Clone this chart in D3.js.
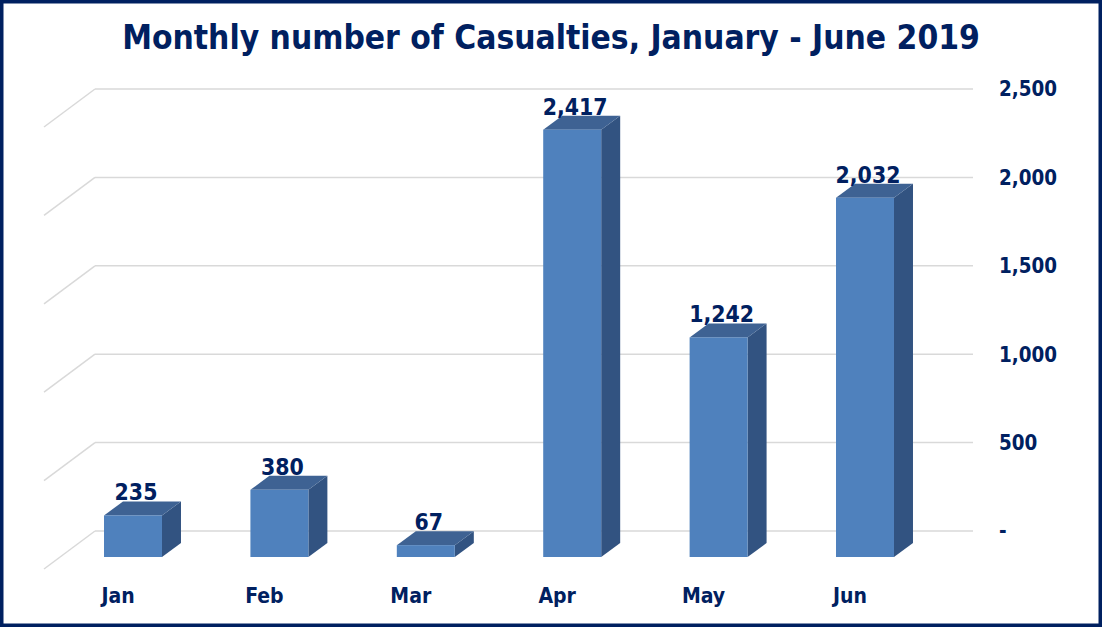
<!DOCTYPE html>
<html><head><meta charset="utf-8">
<script src="https://cdn.jsdelivr.net/npm/d3@7"></script>
<style>html,body{margin:0;padding:0;background:#fff;}svg{display:block;}</style>
</head><body>
<svg id="c" width="1102" height="627"></svg>
<script>
const months = ["Jan","Feb","Mar","Apr","May","Jun"];
const casualties = [235, 380, 67, 2417, 1242, 2032];
const yTicks = [0, 500, 1000, 1500, 2000, 2500];
const yTickLabels = ["-", "500", "1,000", "1,500", "2,000", "2,500"];
const title = "Monthly number of Casualties, January - June 2019";

const W = 1102, H = 627;
const navy = "#002060";
const font = "'DejaVu Sans Condensed', 'DejaVu Sans', sans-serif";
const svg = d3.select("#c");

// frame
svg.append("rect").attr("x",1.75).attr("y",1.75).attr("width",W-3.5).attr("height",H-3.5)
  .attr("fill","#fff").attr("stroke",navy).attr("stroke-width",3.5);

// scales: back wall and front plane
const yBack = d3.scaleLinear().domain([0,2500]).range([531,89]);
const frontDY = 26;          // front face offset below back wall
const depthDX = 19, depthDY = -14; // bar depth
const floorDX = -51, floorDY = 38;  // side wall diagonal
const x = d3.scaleBand().domain(months).range([59.8, 938.2]).paddingInner(0.604).paddingOuter(0.302);
const yFront = v => yBack(v) + frontDY;

// gridlines
const wallX0 = 95, wallX1 = 973;
const g = svg.append("g");
yTicks.forEach(t => {
  const yy = yBack(t);
  g.append("line").attr("x1",wallX0).attr("x2",wallX1).attr("y1",yy).attr("y2",yy)
    .attr("stroke","#d9d9d9").attr("stroke-width",1.5);
  g.append("line").attr("x1",wallX0).attr("x2",wallX0+floorDX).attr("y1",yy).attr("y2",yy+floorDY)
    .attr("stroke","#d9d9d9").attr("stroke-width",1.5);
});

// right axis labels
const ax = svg.append("g");
yTicks.forEach((t,i) => {
  ax.append("text").attr("x",999).attr("y",yBack(t)).attr("dy","0.36em")
    .attr("font-family",font).attr("font-weight","bold").attr("font-size",20.4)
    .attr("fill",navy).text(yTickLabels[i]);
});

// bars
const bars = svg.append("g");
months.forEach((m,i) => {
  const v = casualties[i];
  const x0 = x(m), x1 = x(m) + x.bandwidth();
  const yb = yFront(0), yt = yFront(v);
  bars.append("polygon")
    .attr("points",[[x1,yt],[x1+depthDX,yt+depthDY],[x1+depthDX,yb+depthDY],[x1,yb]].map(p=>p.join(",")).join(" "))
    .attr("fill","#325381");
  bars.append("polygon")
    .attr("points",[[x0,yt],[x1,yt],[x1+depthDX,yt+depthDY],[x0+depthDX,yt+depthDY]].map(p=>p.join(",")).join(" "))
    .attr("fill","#3e6293");
  bars.append("rect").attr("x",x0).attr("y",yt).attr("width",x1-x0).attr("height",yb-yt)
    .attr("fill","#4f81bd");
  bars.append("text").attr("x",(x0+x1)/2+3).attr("y",yt+depthDY-1)
    .attr("text-anchor","middle").attr("font-family",font).attr("font-weight","bold")
    .attr("font-size",22.8).attr("fill",navy).text(d3.format(",")(v));
  bars.append("text").attr("x",(x0+x1)/2-15).attr("y",603)
    .attr("text-anchor","middle").attr("font-family",font).attr("font-weight","bold")
    .attr("font-size",21).attr("fill",navy).text(m);
});

// title
const tt = svg.append("text").attr("x",551).attr("y",49).attr("text-anchor","middle")
  .attr("font-family",font).attr("font-weight","bold").attr("font-size",31)
  .attr("fill",navy).text(title);
const tw = tt.node().getComputedTextLength();
tt.attr("font-size", 31 * 858 / tw);
</script>
</body></html>
